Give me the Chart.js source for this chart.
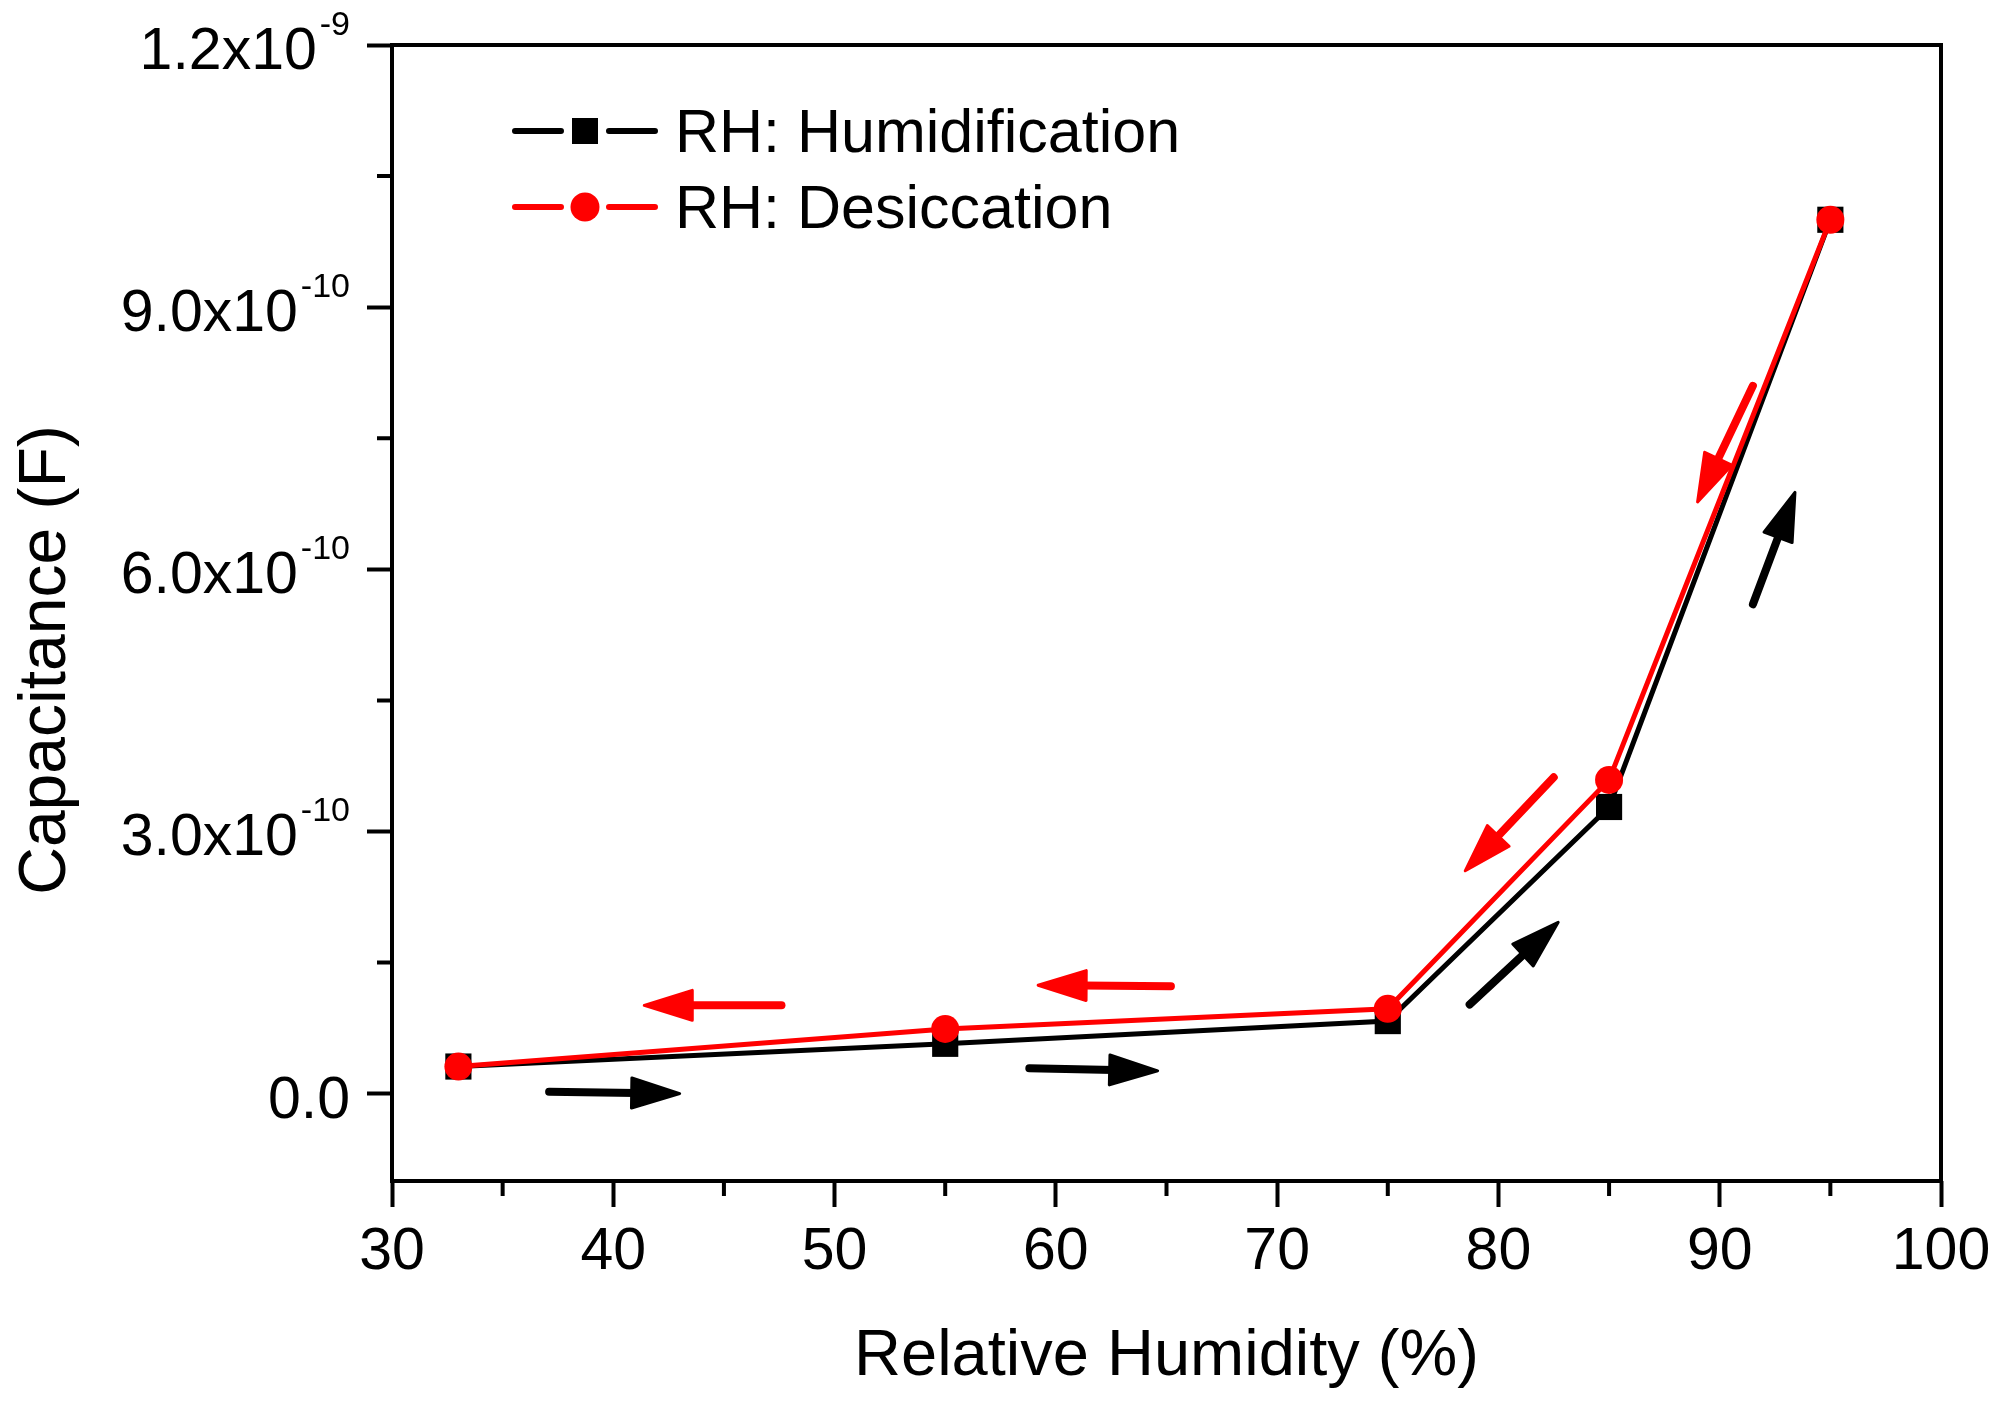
<!DOCTYPE html>
<html>
<head>
<meta charset="utf-8">
<script src="https://cdn.jsdelivr.net/npm/chart.js@4.4.1/dist/chart.umd.min.js"></script>
<style>
  html, body { margin: 0; padding: 0; background: #fff; }
  canvas { display: block; }
</style>
</head>
<body>
<canvas id="myChart" width="2002" height="1419"></canvas>
<script>
const humidity = [33, 55, 75, 85, 95];
const humidification = [3.1e-11, 5.7e-11, 8.3e-11, 3.28e-10, 1.0e-9];
const desiccation = [3.1e-11, 7.4e-11, 9.7e-11, 3.59e-10, 1.0e-9];

const xTicks = [30, 40, 50, 60, 70, 80, 90, 100];
const xMinorTicks = [35, 45, 55, 65, 75, 85, 95];
const yTicks = [0, 3e-10, 6e-10, 9e-10, 1.2e-9];
const yTickBase = ["0.0", "3.0x10", "6.0x10", "9.0x10", "1.2x10"];
const yTickExp = ["", "-10", "-10", "-10", "-9"];
const yMinorTicks = [1.5e-10, 4.5e-10, 7.5e-10, 1.05e-9];

// direction arrows [x0, y0, x1, y1] in data units
const humidArrows = [
  [37.1, 0.2e-11, 43.0, 0.0],
  [58.8, 2.9e-11, 64.6, 2.6e-11],
  [78.7, 1.02e-10, 82.7, 1.96e-10],
  [91.5, 5.6e-10, 93.4, 6.88e-10]
];
const desiccArrows = [
  [47.6, 1.01e-10, 41.4, 1.01e-10],
  [65.2, 1.23e-10, 59.2, 1.24e-10],
  [82.5, 3.62e-10, 78.5, 2.55e-10],
  [91.5, 8.1e-10, 89.0, 6.77e-10]
];

const FONT = "'Liberation Sans', Arial, sans-serif";
Chart.defaults.font.family = FONT;
Chart.defaults.color = "#000";

function drawArrow(ctx, x0, y0, x1, y1, color) {
  const ang = Math.atan2(y1 - y0, x1 - x0);
  const headLen = 48, headW = 30;
  const c = Math.cos(ang), s = Math.sin(ang);
  const bx = x1 - headLen * c, by = y1 - headLen * s;
  ctx.strokeStyle = color;
  ctx.fillStyle = color;
  ctx.lineCap = "round";
  ctx.lineJoin = "round";
  ctx.lineWidth = 8;
  ctx.beginPath();
  ctx.moveTo(x0, y0);
  ctx.lineTo(bx + 4 * c, by + 4 * s);
  ctx.stroke();
  ctx.lineWidth = 3;
  ctx.beginPath();
  ctx.moveTo(x1, y1);
  ctx.lineTo(bx - headW / 2 * s, by + headW / 2 * c);
  ctx.lineTo(bx + headW / 2 * s, by - headW / 2 * c);
  ctx.closePath();
  ctx.fill();
  ctx.stroke();
}

const decorations = {
  id: "decorations",
  afterDatasetsDraw(chart) {
    const { ctx, chartArea: a, scales: { x, y } } = chart;
    ctx.save();

    // frame
    ctx.strokeStyle = "#000";
    ctx.lineWidth = 4;
    ctx.strokeRect(a.left, a.top, a.right - a.left, a.bottom - a.top);

    // minor ticks
    ctx.lineWidth = 4;
    ctx.beginPath();
    xMinorTicks.forEach(v => {
      const px = x.getPixelForValue(v);
      ctx.moveTo(px, a.bottom);
      ctx.lineTo(px, a.bottom + 15);
    });
    yMinorTicks.forEach(v => {
      const py = y.getPixelForValue(v);
      ctx.moveTo(a.left, py);
      ctx.lineTo(a.left - 15, py);
    });
    ctx.stroke();

    // y tick labels with superscript exponent
    const right = 350;
    ctx.fillStyle = "#000";
    ctx.textBaseline = "alphabetic";
    yTicks.forEach((v, i) => {
      const py = y.getPixelForValue(v);
      ctx.font = "34px " + FONT;
      const expW = yTickExp[i] ? ctx.measureText(yTickExp[i]).width : 0;
      if (yTickExp[i]) {
        ctx.textAlign = "left";
        ctx.fillText(yTickExp[i], right - expW, py - 10);
      }
      ctx.font = "59px " + FONT;
      ctx.textAlign = "right";
      ctx.fillText(yTickBase[i], right - (expW ? expW + 3 : 0), py + 24);
    });

    // y title
    ctx.save();
    ctx.translate(65, 660);
    ctx.rotate(-Math.PI / 2);
    ctx.font = "66px " + FONT;
    ctx.textAlign = "center";
    ctx.fillText("Capacitance (F)", 0, 0);
    ctx.restore();

    // arrows
    const toPx = p => [x.getPixelForValue(p[0]), y.getPixelForValue(p[1]), x.getPixelForValue(p[2]), y.getPixelForValue(p[3])];
    humidArrows.forEach(p => drawArrow(ctx, ...toPx(p), "#000"));
    desiccArrows.forEach(p => drawArrow(ctx, ...toPx(p), "#ff0000"));

    // legend
    const rows = [131, 207];
    chart.data.datasets.forEach((ds, i) => {
      const ly = rows[i];
      ctx.strokeStyle = ds.borderColor;
      ctx.fillStyle = ds.backgroundColor;
      ctx.lineWidth = 6;
      ctx.lineCap = "round";
      ctx.beginPath();
      ctx.moveTo(515, ly); ctx.lineTo(561, ly);
      ctx.moveTo(609, ly); ctx.lineTo(655, ly);
      ctx.stroke();
      if (ds.pointStyle === "rect") {
        ctx.fillRect(585 - 13, ly - 13, 26, 26);
      } else {
        ctx.beginPath();
        ctx.arc(585, ly, 14.5, 0, Math.PI * 2);
        ctx.fill();
      }
      ctx.fillStyle = "#000";
      ctx.font = "61px " + FONT;
      ctx.textAlign = "left";
      ctx.fillText(ds.label, 675, ly + 21);
    });

    ctx.restore();
  }
};

const ctx = document.getElementById("myChart");
new Chart(ctx, {
  type: "line",
  data: {
    datasets: [
      {
        label: "RH: Humidification",
        data: humidity.map((h, i) => ({ x: h, y: humidification[i] })),
        borderColor: "#000",
        backgroundColor: "#000",
        borderWidth: 5,
        pointStyle: "rect",
        pointRadius: 18.5,
        pointBorderWidth: 0,
        tension: 0,
        order: 1
      },
      {
        label: "RH: Desiccation",
        data: humidity.map((h, i) => ({ x: h, y: desiccation[i] })),
        borderColor: "#ff0000",
        backgroundColor: "#ff0000",
        borderWidth: 5,
        pointStyle: "circle",
        pointRadius: 14,
        pointBorderWidth: 0,
        tension: 0,
        order: 0
      }
    ]
  },
  options: {
    responsive: false,
    devicePixelRatio: 1,
    animation: false,
    layout: { padding: { top: 45, right: 61, left: 0, bottom: 0 } },
    plugins: {
      legend: { display: false },
      tooltip: { enabled: false }
    },
    scales: {
      x: {
        type: "linear",
        min: 30,
        max: 100,
        afterBuildTicks: s => { s.ticks = xTicks.map(v => ({ value: v })); },
        afterFit: s => { s.height = 238; },
        border: { display: false },
        grid: { display: true, drawOnChartArea: false, drawTicks: true, tickLength: 26, tickWidth: 4, tickColor: "#000" },
        ticks: { font: { size: 59 }, padding: 10, maxRotation: 0, autoSkip: false, color: "#000" },
        title: { display: true, text: "Relative Humidity (%)", font: { size: 65 }, color: "#000", padding: { top: 0, bottom: 23 } }
      },
      y: {
        type: "linear",
        min: -1e-10,
        max: 1.2e-9,
        afterBuildTicks: s => { s.ticks = yTicks.map(v => ({ value: v })); },
        afterFit: s => { s.width = 392; },
        border: { display: false },
        grid: { display: true, drawOnChartArea: false, drawTicks: true, tickLength: 25, tickWidth: 4, tickColor: "#000" },
        ticks: { display: false }
      }
    }
  },
  plugins: [decorations]
});
</script>
</body>
</html>
